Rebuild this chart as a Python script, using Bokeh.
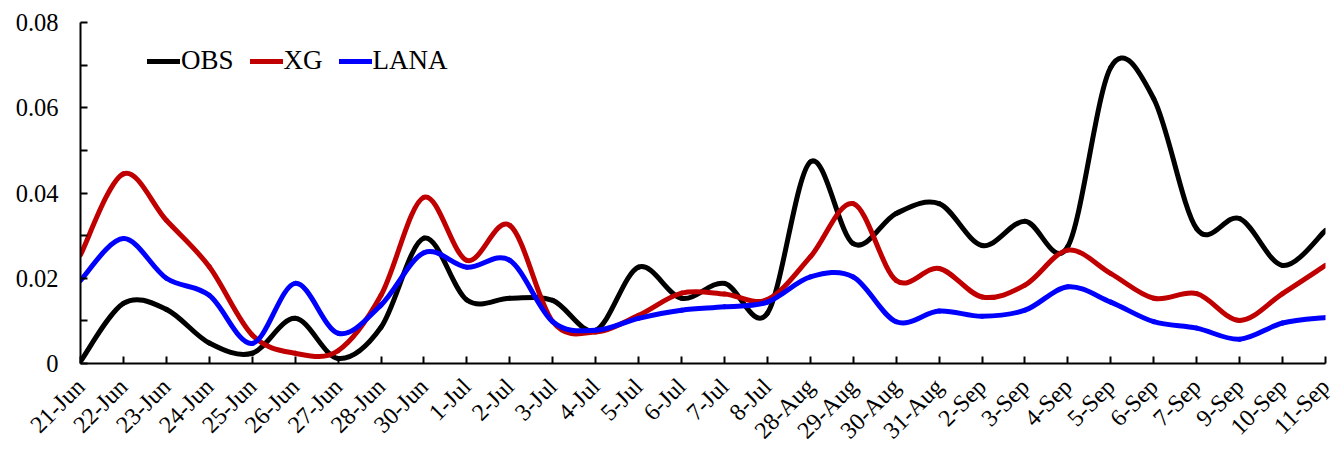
from bokeh.plotting import figure
from bokeh.models import (FixedTicker, CustomJSTickFormatter, Legend, LegendItem,
                          ColumnDataSource)
from bokeh.embed import file_html
from bokeh.resources import INLINE

dates = ["21-Jun", "22-Jun", "23-Jun", "24-Jun", "25-Jun", "26-Jun", "27-Jun",
         "28-Jun", "30-Jun", "1-Jul", "2-Jul", "3-Jul", "4-Jul", "5-Jul", "6-Jul",
         "7-Jul", "8-Jul", "28-Aug", "29-Aug", "30-Aug", "31-Aug", "2-Sep", "3-Sep",
         "4-Sep", "5-Sep", "6-Sep", "7-Sep", "9-Sep", "10-Sep", "11-Sep"]

obs = [0.0005, 0.0141, 0.0127, 0.0048, 0.0024, 0.0106, 0.0012, 0.0085, 0.0294, 0.0149,
       0.0153, 0.0148, 0.0078, 0.0226, 0.0153, 0.0188, 0.0118, 0.0473, 0.0281, 0.0352,
       0.0375, 0.0277, 0.0334, 0.0275, 0.0695, 0.0621, 0.0316, 0.0340, 0.0230, 0.0312]

xg = [0.0255, 0.0445, 0.0336, 0.0227, 0.0067, 0.0024, 0.0030, 0.0160, 0.0390, 0.0242,
      0.0324, 0.0098, 0.0074, 0.0113, 0.0165, 0.0163, 0.0150, 0.0250, 0.0375, 0.0195,
      0.0223, 0.0156, 0.0184, 0.0266, 0.0211, 0.0153, 0.0164, 0.0101, 0.0164, 0.0230]

lana = [0.0195, 0.0293, 0.0200, 0.0160, 0.0047, 0.0188, 0.0071, 0.0137, 0.0260, 0.0226,
        0.0242, 0.0098, 0.0078, 0.0106, 0.0125, 0.0133, 0.0144, 0.0203, 0.0203, 0.0098,
        0.0123, 0.0111, 0.0125, 0.0180, 0.0144, 0.0098, 0.0083, 0.0057, 0.0095, 0.0108]

series = [("OBS", obs, "#000000"), ("XG", xg, "#C00000"), ("LANA", lana, "#0000FF")]

FONT = "Liberation Serif"


def smooth_segments(ys):
    """Cubic Bezier segments through every point (Catmull-Rom style tangents)."""
    n = len(ys)
    xs = list(range(n))
    seg = {k: [] for k in ("x0", "y0", "x1", "y1", "cx0", "cy0", "cx1", "cy1")}
    for i in range(n - 1):
        ip, inn = max(i - 1, 0), min(i + 2, n - 1)
        seg["x0"].append(xs[i]); seg["y0"].append(ys[i])
        seg["x1"].append(xs[i + 1]); seg["y1"].append(ys[i + 1])
        seg["cx0"].append(xs[i] + (xs[i + 1] - xs[ip]) / 6)
        seg["cy0"].append(ys[i] + (ys[i + 1] - ys[ip]) / 6)
        seg["cx1"].append(xs[i + 1] - (xs[inn] - xs[i]) / 6)
        seg["cy1"].append(ys[i + 1] - (ys[inn] - ys[i]) / 6)
    return ColumnDataSource(seg)


p = figure(frame_width=1245, frame_height=341, output_backend="svg",
           toolbar_location=None,
           x_range=(0, len(dates) - 1), y_range=(0, 0.08),
           min_border_left=80, min_border_right=9, min_border_top=22,
           min_border_bottom=0)
p.outline_line_color = None
p.xgrid.visible = False
p.ygrid.visible = False
p.background_fill_color = "white"
p.border_fill_color = "white"

items = []
for name, vals, color in series:
    r = p.bezier(x0="x0", y0="y0", x1="x1", y1="y1", cx0="cx0", cy0="cy0",
                 cx1="cx1", cy1="cy1", source=smooth_segments(vals),
                 line_color=color, line_width=5, line_cap="round")
    items.append(LegendItem(label=name, renderers=[r]))

legend = Legend(items=items, orientation="horizontal", location=(67, 287),
                padding=0, margin=0, spacing=16, glyph_width=33, glyph_height=28,
                label_standoff=1, label_text_font=FONT, label_text_font_size="27px",
                label_text_color="#000000", background_fill_alpha=0,
                border_line_color=None)
p.add_layout(legend, "center")

# x axis: one tick per date
xa = p.xaxis[0]
xa.ticker = FixedTicker(ticks=list(range(len(dates))))
xa.major_label_overrides = {i: d for i, d in enumerate(dates)}
xa.major_label_orientation = 0.785398
xa.major_label_text_font = FONT
xa.major_label_text_font_size = "24px"
xa.major_label_text_color = "#000000"
xa.major_label_standoff = 19
xa.axis_line_color = "#000000"
xa.axis_line_width = 2
xa.major_tick_in = 7
xa.major_tick_out = 0
xa.major_tick_line_width = 2
xa.major_tick_line_color = "#000000"
xa.minor_tick_line_color = None

# y axis: labels every 0.02, unlabelled ticks between
ya = p.yaxis[0]
ya.ticker = FixedTicker(ticks=[0, 0.02, 0.04, 0.06, 0.08],
                        minor_ticks=[0.01, 0.03, 0.05, 0.07])
ya.formatter = CustomJSTickFormatter(code="return tick == 0 ? '0' : tick.toFixed(2);")
ya.major_label_text_font = FONT
ya.major_label_text_font_size = "24.5px"
ya.major_label_text_color = "#000000"
ya.major_label_standoff = 22
ya.axis_line_color = "#000000"
ya.axis_line_width = 2
ya.major_tick_in = 7
ya.major_tick_out = 0
ya.minor_tick_in = 7
ya.minor_tick_out = 0
ya.major_tick_line_width = 2
ya.minor_tick_line_width = 2
ya.major_tick_line_color = "#000000"
ya.minor_tick_line_color = "#000000"

open("out.html", "w").write(file_html(p, INLINE))
